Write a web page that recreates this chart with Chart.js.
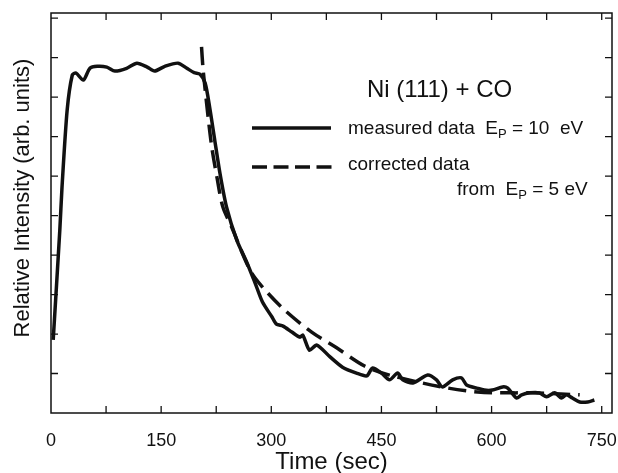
<!DOCTYPE html>
<html>
<head>
<meta charset="utf-8">
<script src="https://cdn.jsdelivr.net/npm/chart.js@4.4.0/dist/chart.umd.min.js"></script>
<style>
html,body{margin:0;padding:0;background:#fff;}
#wrap{width:618px;height:473px;position:relative;}
</style>
</head>
<body>
<div id="wrap"><canvas id="c"></canvas></div>
<script>
// ---- data ----
const xMajorTicks = [0, 150, 300, 450, 600, 750];
const measuredTime = [3, 12, 15, 22, 29, 34, 44, 53, 63, 76, 87, 103, 117, 131, 141, 155, 173, 185, 195, 203, 210, 216, 223, 230, 239, 253, 267, 278, 288, 301, 307, 316, 328, 339, 343, 352, 362, 380, 397, 416, 430, 438, 450, 461, 472, 479, 493, 513, 525, 533, 547, 559, 566, 580, 590, 601, 615, 622, 634, 641, 652, 665, 675, 686, 695, 702, 710, 720, 731, 740];
const measuredIntensity = [1.85, 4.63, 5.72, 7.67, 8.56, 8.61, 8.43, 8.73, 8.78, 8.76, 8.66, 8.73, 8.86, 8.76, 8.66, 8.78, 8.86, 8.73, 8.62, 8.58, 8.35, 7.75, 6.91, 6.08, 5.22, 4.38, 3.80, 3.29, 2.81, 2.43, 2.25, 2.20, 2.05, 1.92, 1.97, 1.59, 1.72, 1.42, 1.16, 1.01, 0.94, 1.14, 1.01, 0.84, 1.01, 0.84, 0.76, 0.96, 0.84, 0.66, 0.84, 0.89, 0.71, 0.63, 0.58, 0.58, 0.66, 0.63, 0.38, 0.46, 0.51, 0.51, 0.41, 0.51, 0.38, 0.46, 0.38, 0.28, 0.28, 0.33];
const correctedTime = [205, 207, 210, 214, 219, 226, 234, 246, 271, 288, 318, 355, 389, 427, 461, 532, 581, 629, 656, 720];
const correctedIntensity = [9.27, 8.73, 8.18, 7.49, 6.73, 5.97, 5.22, 4.71, 3.62, 3.19, 2.61, 2.05, 1.65, 1.19, 0.96, 0.66, 0.53, 0.51, 0.51, 0.46];

const INK = '#111111';
const FONT = '"Liberation Sans", Arial, sans-serif';

const toPoints = (xs, ys) => xs.map((x, i) => ({x: x, y: ys[i]}));

const framePlugin = {
  id: 'frame',
  afterDraw(chart) {
    const ctx = chart.ctx;
    const a = chart.chartArea;
    const xs = chart.scales.x, ys = chart.scales.y;
    ctx.save();
    ctx.strokeStyle = INK;
    ctx.lineWidth = 1.5;
    ctx.strokeRect(a.left, a.top, a.right - a.left, a.bottom - a.top);
    const tl = 7;
    ctx.lineWidth = 1.3;
    ctx.beginPath();
    xs.ticks.forEach(t => {
      if (t.value <= 0 || t.value > 750) return;
      const px = xs.getPixelForValue(t.value);
      ctx.moveTo(px, a.bottom); ctx.lineTo(px, a.bottom - tl);
      ctx.moveTo(px, a.top); ctx.lineTo(px, a.top + tl);
    });
    ys.ticks.forEach(t => {
      if (t.value <= 0 || t.value > 10) return;
      const py = ys.getPixelForValue(t.value);
      ctx.moveTo(a.left, py); ctx.lineTo(a.left + tl, py);
      ctx.moveTo(a.right, py); ctx.lineTo(a.right - tl, py);
    });
    ctx.stroke();

    // y-axis title
    ctx.fillStyle = INK;
    ctx.font = '22px ' + FONT;
    ctx.textAlign = 'center';
    ctx.textBaseline = 'middle';
    ctx.translate(23, 198);
    ctx.rotate(-Math.PI / 2);
    ctx.fillText('Relative Intensity (arb. units)', 0, 0);
    ctx.restore();

    // annotation + legend
    ctx.save();
    ctx.fillStyle = INK;
    ctx.textBaseline = 'alphabetic';
    ctx.textAlign = 'left';
    ctx.font = '24px ' + FONT;
    ctx.fillText('Ni (111) + CO', 367, 97);

    const drawSub = (parts, x, y) => {
      parts.forEach(p => {
        ctx.font = (p.sub ? '13px ' : '19px ') + FONT;
        ctx.fillText(p.t, x, y + (p.sub ? 4 : 0));
        x += ctx.measureText(p.t).width;
      });
    };
    drawSub([{t: 'measured data  E'}, {t: 'P', sub: true}, {t: ' = 10  eV'}], 348, 134);
    ctx.font = '19px ' + FONT;
    ctx.fillText('corrected data', 348, 170);
    drawSub([{t: 'from  E'}, {t: 'P', sub: true}, {t: ' = 5 eV'}], 457, 195);

    ctx.strokeStyle = INK;
    ctx.lineWidth = 3.5;
    ctx.beginPath();
    ctx.moveTo(252, 128); ctx.lineTo(331, 128);
    ctx.stroke();
    ctx.setLineDash([15, 6.5]);
    ctx.beginPath();
    ctx.moveTo(252, 167); ctx.lineTo(332, 167);
    ctx.stroke();
    ctx.restore();
  }
};

new Chart(document.getElementById('c'), {
  type: 'line',
  data: {
    datasets: [
      {
        label: 'measured data Ep = 10 eV',
        data: toPoints(measuredTime, measuredIntensity),
        borderColor: INK,
        borderWidth: 3.5,
        pointRadius: 0,
        tension: 0.25,
        fill: false
      },
      {
        label: 'corrected data from Ep = 5 eV',
        data: toPoints(correctedTime, correctedIntensity),
        borderColor: INK,
        borderWidth: 3.5,
        borderDash: [18, 8],
        pointRadius: 0,
        tension: 0.3,
        fill: false
      }
    ]
  },
  options: {
    responsive: true,
    maintainAspectRatio: false,
    animation: false,
    layout: {padding: {top: 13, right: 6, left: 0, bottom: 0}},
    plugins: {legend: {display: false}, tooltip: {enabled: false}, title: {display: false}},
    scales: {
      x: {
        type: 'linear',
        min: 0,
        max: 764,
        afterFit: s => { s.height = 60; s.paddingLeft = 0; s.paddingRight = 0; },
        ticks: {
          stepSize: 75,
          includeBounds: false,
          autoSkip: false,
          maxRotation: 0,
          color: INK,
          font: {family: FONT, size: 18},
          padding: 17,
          callback: v => xMajorTicks.includes(v) ? String(v) : ''
        },
        grid: {display: false, drawTicks: false},
        border: {display: false},
        title: {
          display: true,
          text: 'Time (sec)',
          color: INK,
          font: {family: FONT, size: 24, lineHeight: 0.9},
          padding: {top: 0, bottom: 0}
        }
      },
      y: {
        min: 0,
        max: 10.13,
        afterFit: s => { s.width = 51; },
        ticks: {display: false, stepSize: 1, includeBounds: false},
        grid: {display: false, drawTicks: false},
        border: {display: false}
      }
    }
  },
  plugins: [framePlugin]
});
</script>
</body>
</html>
